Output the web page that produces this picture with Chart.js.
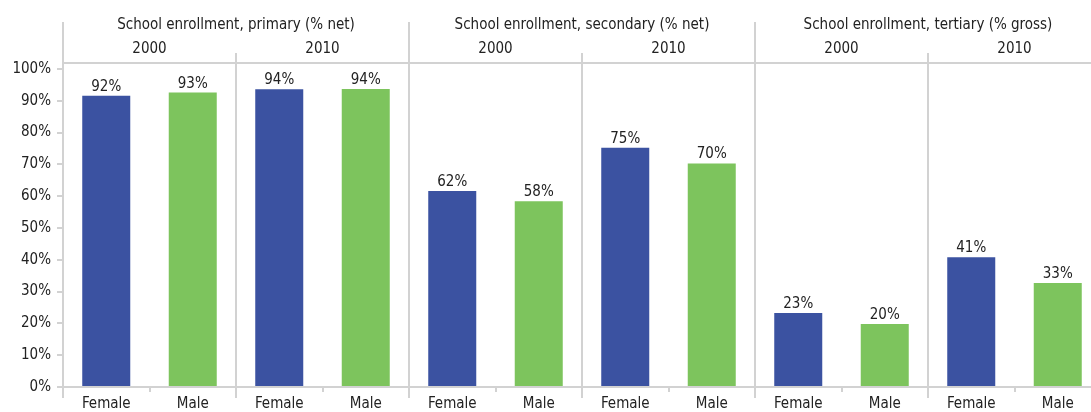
<!DOCTYPE html>
<html>
<head>
<meta charset="utf-8">
<script src="https://cdn.jsdelivr.net/npm/chart.js@4/dist/chart.umd.min.js"></script>
<style>
  html, body { margin: 0; padding: 0; background: #fff; overflow: hidden; }
  #wrap { width: 1091px; height: 412px; overflow: hidden; }
</style>
</head>
<body>
<div id="wrap"><canvas id="chart" width="1101" height="412"></canvas></div>
<script>
const groups = [
  "School enrollment, primary (% net)",
  "School enrollment, secondary (% net)",
  "School enrollment, tertiary (% gross)"
];
const years = ["2000", "2010"];
const sexes = ["Female", "Male"];

// one value per group/year, in order primary 2000, primary 2010, secondary 2000 ...
const femaleValues = [91.6, 93.6, 61.6, 75.2, 23.3, 40.8];
const maleValues = [92.6, 93.7, 58.4, 70.3, 19.8, 32.7];

const yTicks = [0, 10, 20, 30, 40, 50, 60, 70, 80, 90, 100];

const FONT = '"Liberation Sans Narrow", "DejaVu Sans Condensed", "Roboto Condensed", sans-serif';
const BLUE = "#3b52a1";
const GREEN = "#7dc45d";
const LINE = "#d2d2d2";
const TEXT = "#222222";

const labels = [];
const values = [];
const colors = [];
femaleValues.forEach((f, i) => {
  labels.push(sexes[0], sexes[1]);
  values.push(f, maleValues[i]);
  colors.push(BLUE, GREEN);
});

function boundary(x, i) {
  // pixel of the left edge of category i
  const w = x.getPixelForValue(1) - x.getPixelForValue(0);
  return x.getPixelForValue(i) - w / 2;
}

const headerPlugin = {
  id: "header",
  afterDraw(chart) {
    const ctx = chart.ctx;
    const x = chart.scales.x;
    const area = chart.chartArea;
    const bottom = area.bottom + 11;

    ctx.save();
    ctx.strokeStyle = LINE;
    ctx.lineWidth = 2;

    // header rule
    ctx.beginPath();
    ctx.moveTo(area.left, area.top - 6);
    ctx.lineTo(area.right, area.top - 6);
    ctx.stroke();

    // group and year separators
    for (let i = 0; i <= labels.length; i += 2) {
      const px = Math.round(boundary(x, i));
      const isGroup = i % 4 === 0;
      ctx.beginPath();
      ctx.moveTo(px, isGroup ? 22 : 53);
      ctx.lineTo(px, bottom);
      ctx.stroke();
    }

    ctx.fillStyle = TEXT;
    ctx.textAlign = "center";
    ctx.textBaseline = "alphabetic";
    ctx.font = "15px " + FONT;

    groups.forEach((g, gi) => {
      const cx = (boundary(x, gi * 4) + boundary(x, gi * 4 + 4)) / 2;
      ctx.fillText(g, cx, 29);
      years.forEach((yr, yi) => {
        const s = gi * 4 + yi * 2;
        const yx = (boundary(x, s) + boundary(x, s + 2)) / 2;
        ctx.fillText(yr, yx, 53);
      });
    });

    // value labels
    const meta = chart.getDatasetMeta(0);
    meta.data.forEach((bar, i) => {
      ctx.fillText(Math.round(values[i]) + "%", bar.x, bar.y - 5);
    });
    ctx.restore();
  }
};

new Chart(document.getElementById("chart"), {
  type: "bar",
  data: {
    labels,
    datasets: [{
      data: values,
      backgroundColor: colors,
      categoryPercentage: 1,
      barPercentage: 0.555
    }]
  },
  options: {
    responsive: false,
    animation: false,
    layout: { padding: { top: 69, right: 0, left: 0, bottom: 0 } },
    plugins: {
      legend: { display: false },
      tooltip: { enabled: false }
    },
    scales: {
      x: {
        afterFit: s => { s.height = 25; },
        border: { display: true, color: LINE, width: 2 },
        grid: {
          offset: true,
          drawOnChartArea: false,
          drawTicks: true,
          tickLength: 5,
          color: LINE,
          lineWidth: 2
        },
        ticks: {
          color: TEXT,
          font: { family: FONT, size: 15 },
          padding: 3,
          maxRotation: 0,
          autoSkip: false
        }
      },
      y: {
        min: 0,
        max: 100,
        afterFit: s => { s.width = 63; },
        afterBuildTicks: s => { s.ticks = yTicks.map(v => ({ value: v })); },
        border: { display: false },
        grid: {
          drawOnChartArea: false,
          drawTicks: true,
          tickLength: 6,
          color: LINE,
          lineWidth: 2
        },
        ticks: {
          color: TEXT,
          font: { family: FONT, size: 15 },
          padding: 6,
          callback: v => v + "%"
        }
      }
    }
  },
  plugins: [headerPlugin]
});
</script>
</body>
</html>
